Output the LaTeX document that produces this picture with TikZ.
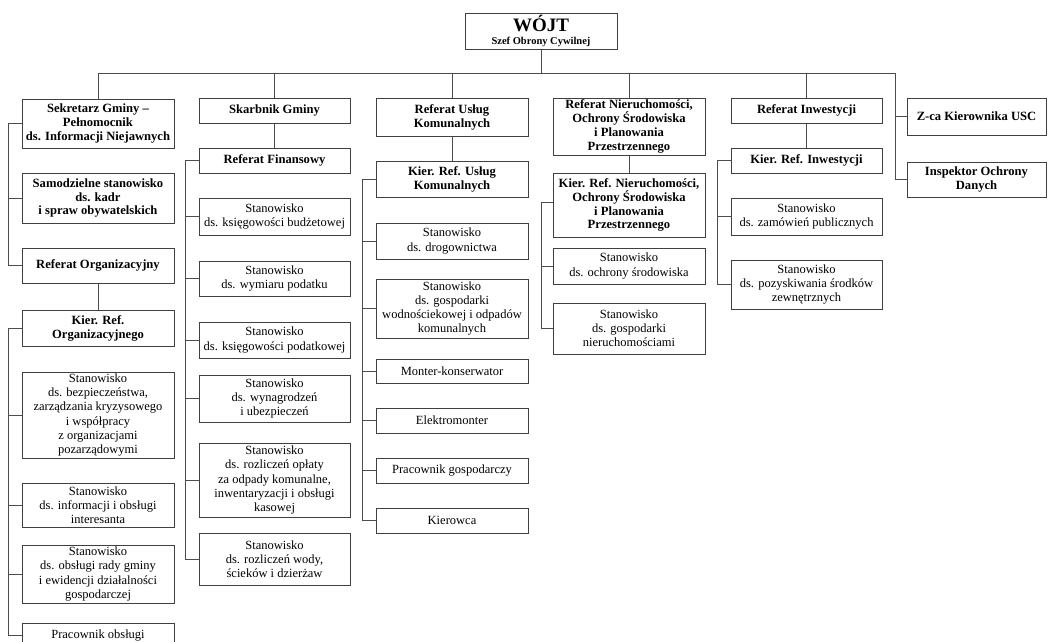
\documentclass[tikz,border=0pt]{standalone}
\usepackage{fontspec}
\setmainfont{Liberation Serif}
\usepackage{tikz}

\tikzset{
    box/.style={draw=black!75,line width=1pt,fill=white,align=center,inner sep=1pt,
        font=\fontsize{12.5}{14.2}\selectfont},
    bbox/.style={box,font=\fontsize{12.6}{13.9}\selectfont\bfseries},
    link/.style={draw=black!70,line width=1pt}
}

\begin{document}
\begin{tikzpicture}[x=1pt,y=-1pt]
    \useasboundingbox [fill=white] (0,0) rectangle (1048,641);
    % top
    \node [box,minimum width=152,minimum height=36] (wojt) at (541,31)
        {{\fontsize{19}{19}\selectfont\bfseries WÓJT}\\[-1pt]{\fontsize{10.5}{11}\selectfont\bfseries Szef Obrony Cywilnej}};
    \coordinate (busL) at (98,73);
    \coordinate (busR) at (895,73);

    % column 1
    \node [bbox,minimum width=152,minimum height=49] (sekr) at (98,123.5) {Sekretarz Gminy --\\Pełnomocnik\\ds. Informacji Niejawnych};
    \node [bbox,minimum width=152,minimum height=50] (samo) at (98,198) {Samodzielne stanowisko\\ds. kadr\\i spraw obywatelskich};
    \node [bbox,minimum width=152,minimum height=35] (refOrg) at (98,265.5) {Referat Organizacyjny};
    \node [bbox,minimum width=152,minimum height=36] (kierOrg) at (98,328) {Kier. Ref.\\Organizacyjnego};
    \node [box,minimum width=152,minimum height=86] (bezp) at (98,415) {Stanowisko\\ds. bezpieczeństwa,\\zarządzania kryzysowego\\i współpracy\\z organizacjami\\pozarządowymi};
    \node [box,minimum width=152,minimum height=44] (info) at (98,505) {Stanowisko\\ds. informacji i obsługi\\interesanta};
    \node [box,minimum width=152,minimum height=58] (rady) at (98,574) {Stanowisko\\ds. obsługi rady gminy\\i ewidencji działalności\\gospodarczej};
    \node [box,minimum width=152,minimum height=24] (pracObs) at (98,635) {Pracownik obsługi};

    % column 2
    \node [bbox,minimum width=151,minimum height=25] (skarb) at (274.5,110.5) {Skarbnik Gminy};
    \node [bbox,minimum width=151,minimum height=25] (refFin) at (274.5,160.5) {Referat Finansowy};
    \node [box,minimum width=151,minimum height=37] (ksBud) at (274.5,216.5) {Stanowisko\\ds. księgowości budżetowej};
    \node [box,minimum width=151,minimum height=35] (wymiar) at (274.5,278.5) {Stanowisko\\ds. wymiaru podatku};
    \node [box,minimum width=151,minimum height=36] (ksPod) at (274.5,340) {Stanowisko\\ds. księgowości podatkowej};
    \node [box,minimum width=151,minimum height=47] (wynagr) at (274.5,398.5) {Stanowisko\\ds. wynagrodzeń\\i ubezpieczeń};
    \node [box,minimum width=151,minimum height=74] (oplaty) at (274.5,480) {Stanowisko\\ds. rozliczeń opłaty\\za odpady komunalne,\\inwentaryzacji i obsługi\\kasowej};
    \node [box,minimum width=151,minimum height=52] (woda) at (274.5,559) {Stanowisko\\ds. rozliczeń wody,\\ścieków i dzierżaw};

    % column 3
    \node [bbox,minimum width=152,minimum height=38] (refUK) at (452,117) {Referat Usług\\Komunalnych};
    \node [bbox,minimum width=152,minimum height=36] (kierUK) at (452,179) {Kier. Ref. Usług\\Komunalnych};
    \node [box,minimum width=152,minimum height=36] (drog) at (452,241) {Stanowisko\\ds. drogownictwa};
    \node [box,minimum width=152,minimum height=59] (wodno) at (452,308.5) {Stanowisko\\ds. gospodarki\\wodnościekowej i odpadów\\komunalnych};
    \node [box,minimum width=152,minimum height=24] (monter) at (452,371) {Monter-konserwator};
    \node [box,minimum width=152,minimum height=25] (elektro) at (452,420.5) {Elektromonter};
    \node [box,minimum width=152,minimum height=25] (pracGosp) at (452,470.5) {Pracownik gospodarczy};
    \node [box,minimum width=152,minimum height=25] (kierowca) at (452,520.5) {Kierowca};

    % column 4
    \node [bbox,minimum width=152,minimum height=57] (refNier) at (629,126.5) {Referat Nieruchomości,\\Ochrony Środowiska\\i Planowania\\Przestrzennego};
    \node [bbox,minimum width=152,minimum height=64] (kierNier) at (629,205) {Kier. Ref. Nieruchomości,\\Ochrony Środowiska\\i Planowania\\Przestrzennego};
    \node [box,minimum width=152,minimum height=36] (ochrona) at (629,266) {Stanowisko\\ds. ochrony środowiska};
    \node [box,minimum width=152,minimum height=51] (gospNier) at (629,328.5) {Stanowisko\\ds. gospodarki\\nieruchomościami};

    % column 5
    \node [bbox,minimum width=151,minimum height=25] (refInw) at (806.5,110.5) {Referat Inwestycji};
    \node [bbox,minimum width=151,minimum height=25] (kierInw) at (806.5,160.5) {Kier. Ref. Inwestycji};
    \node [box,minimum width=151,minimum height=37] (zamow) at (806.5,216.5) {Stanowisko\\ds. zamówień publicznych};
    \node [box,minimum width=151,minimum height=49] (pozysk) at (806.5,284.5) {Stanowisko\\ds. pozyskiwania środków\\zewnętrznych};

    % column 6
    \node [bbox,minimum width=139,minimum height=37] (zca) at (976.5,116.5) {Z-ca Kierownika USC};
    \node [bbox,minimum width=139,minimum height=35] (iod) at (976.5,179.5) {Inspektor Ochrony\\Danych};

    % bus
    \begin{scope}[link]
    \draw (wojt.south) -- (wojt.south |- busL);
    \draw (busL) -- (busR);
    \foreach \n in {sekr,skarb,refUK,refNier,refInw}
        \draw (\n.north) -- (\n.north |- busL);
    \draw (busR) |- (iod.west);
    \draw (zca.west) -- (zca.west -| busR);

    % vertical chains
    \draw (refOrg.south) -- (kierOrg.north);
    \draw (skarb.south) -- (refFin.north);
    \draw (refUK.south) -- (kierUK.north);
    \draw (refNier.south) -- (kierNier.north);
    \draw (refInw.south) -- (kierInw.north);

    % brackets
    \draw (sekr.west) -- ++(-13,0) |- (refOrg.west);
    \draw (samo.west) -- ++(-13,0);
    \draw (kierOrg.west) -- ++(-13,0) |- (pracObs.west);
    \foreach \n in {bezp,info,rady}
        \draw (\n.west) -- ++(-13,0);
    \draw (refFin.west) -- ++(-13,0) |- (woda.west);
    \foreach \n in {ksBud,wymiar,ksPod,wynagr,oplaty}
        \draw (\n.west) -- ++(-13,0);
    \draw (kierUK.west) -- ++(-13,0) |- (kierowca.west);
    \foreach \n in {drog,wodno,monter,elektro,pracGosp}
        \draw (\n.west) -- ++(-13,0);
    \draw ([yshift=3]kierNier.west) -- ++(-11,0) |- (gospNier.west);
    \draw (ochrona.west) -- ++(-11,0);
    \draw (kierInw.west) -- ++(-13,0) |- (pozysk.west);
    \draw (zamow.west) -- ++(-13,0);
    \end{scope}
\end{tikzpicture}
\end{document}
